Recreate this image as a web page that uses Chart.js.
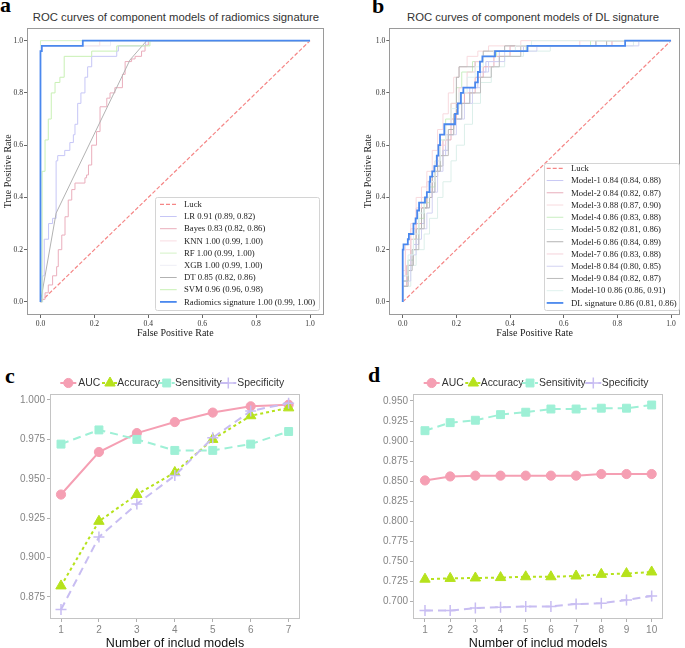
<!DOCTYPE html>
<html>
<head>
<meta charset="utf-8">
<script src="https://cdn.jsdelivr.net/npm/chart.js@4.4.0/dist/chart.umd.min.js"></script>
<style>
  html, body { margin: 0; padding: 0; background: #fff; }
  body { width: 685px; height: 648px; position: relative; overflow: hidden; }
  canvas { position: absolute; }
  .tag { position: absolute; font: bold 22px "Liberation Serif", serif; line-height: 22px; color: #000; }
  .title { position: absolute; font: 11.3px "Liberation Sans", Arial, sans-serif; line-height: 13px;
           color: #333; white-space: nowrap; transform: translateX(-50%); }
</style>
</head>
<body>
<div class="tag" style="left:0px;top:-6px">a</div>
<div class="tag" style="left:372px;top:-5px">b</div>
<div class="tag" style="left:5px;top:365px">c</div>
<div class="tag" style="left:368px;top:364px">d</div>
<div class="title" style="left:176px;top:11px">ROC curves of component models of radiomics signature</div>
<div class="title" style="left:533px;top:11px">ROC curves of component models of DL signature</div>

<canvas id="chartA" width="340" height="340" style="left:0;top:0"></canvas>
<canvas id="chartB" width="345" height="340" style="left:340px;top:0"></canvas>
<canvas id="chartC" width="340" height="315" style="left:0;top:340px"></canvas>
<canvas id="chartD" width="345" height="315" style="left:340px;top:340px"></canvas>

<script>
// ---------- shared ROC data ----------
const rocTicks = [0, 0.2, 0.4, 0.6, 0.8, 1.0];
const luckFpr = [0, 1];
const luckTpr = [0, 1];

// ---------- panel a: radiomics component models (step points: fpr where tpr rises) ----------
const lrFpr = [0, 0.008, 0.014, 0.03, 0.045, 0.058, 0.064, 0.09, 0.109, 0.122, 0.128, 0.138, 0.15, 0.165, 0.175, 0.19, 0.283, 0.289, 0.39, 1];
const lrTpr = [0, 0.10, 0.24, 0.30, 0.32, 0.54, 0.56, 0.58, 0.61, 0.64, 0.68, 0.76, 0.80, 0.86, 0.90, 0.94, 0.96, 0.98, 1.0, 1.0];
const bayesFpr = [0, 0.004, 0.017, 0.029, 0.045, 0.06, 0.066, 0.079, 0.091, 0.103, 0.116, 0.128, 0.165, 0.171, 0.178, 0.19, 0.208, 0.221, 0.246, 0.258, 0.276, 0.304, 0.314, 0.338, 0.351, 0.375, 0.388, 0.4, 1];
const bayesTpr = [0, 0.01, 0.035, 0.065, 0.10, 0.135, 0.20, 0.256, 0.326, 0.39, 0.43, 0.455, 0.475, 0.486, 0.524, 0.60, 0.652, 0.747, 0.78, 0.80, 0.82, 0.871, 0.92, 0.93, 0.94, 0.96, 0.983, 1.0, 1.0];
const knnFpr = [0, 0, 0.22, 1];
const knnTpr = [0, 0.98, 1.0, 1.0];
const rfFpr = [0, 0, 1];
const rfTpr = [0, 1.0, 1.0];
const xgbFpr = [0, 0, 0.26, 1];
const xgbTpr = [0, 0.98, 1.0, 1.0];
const dtFpr = [0, 0.058, 0.332, 0.394, 1];   // straight segments
const dtTpr = [0, 0.34, 0.926, 1.0, 1.0];
const svmFpr = [0, 0.006, 0.017, 0.029, 0.04, 0.054, 0.072, 0.088, 0.19, 0.283, 0.406, 1];
const svmTpr = [0, 0.50, 0.62, 0.70, 0.80, 0.84, 0.86, 0.94, 0.96, 0.98, 1.0, 1.0];
const radFpr = [0, 0, 0.005, 0.157, 1];
const radTpr = [0, 0.96, 0.98, 1.0, 1.0];

// ---------- panel b: DL component models ----------
const m1Fpr = [0, 0, 0.02, 0.04, 0.06, 0.08, 0.1, 0.12, 0.14, 0.16, 0.19, 0.22, 0.25, 0.28, 0.31, 0.36, 0.45, 0.72, 1];
const m1Tpr = [0, 0.10, 0.16, 0.22, 0.30, 0.36, 0.42, 0.50, 0.56, 0.64, 0.70, 0.76, 0.82, 0.88, 0.92, 0.96, 0.98, 1.0, 1.0];
const m2Fpr = [0, 0, 0.015, 0.03, 0.05, 0.07, 0.09, 0.11, 0.13, 0.15, 0.18, 0.2, 0.23, 0.27, 0.3, 0.34, 0.4, 0.78, 1];
const m2Tpr = [0, 0.06, 0.14, 0.24, 0.30, 0.36, 0.40, 0.48, 0.56, 0.62, 0.70, 0.76, 0.80, 0.86, 0.90, 0.94, 0.98, 1.0, 1.0];
const m3Fpr = [0, 0, 0.01, 0.03, 0.05, 0.07, 0.09, 0.11, 0.13, 0.15, 0.17, 0.19, 0.21, 0.24, 0.28, 0.32, 0.44, 1];
const m3Tpr = [0, 0.12, 0.22, 0.30, 0.40, 0.44, 0.50, 0.58, 0.66, 0.72, 0.80, 0.86, 0.90, 0.94, 0.96, 0.98, 1.0, 1.0];
const m4Fpr = [0, 0, 0.02, 0.04, 0.06, 0.08, 0.1, 0.12, 0.14, 0.16, 0.18, 0.2, 0.22, 0.26, 0.3, 0.35, 0.46, 0.7, 1];
const m4Tpr = [0, 0.08, 0.16, 0.24, 0.32, 0.38, 0.44, 0.52, 0.62, 0.70, 0.76, 0.82, 0.88, 0.92, 0.94, 0.96, 0.98, 1.0, 1.0];
const m5Fpr = [0, 0, 0.03, 0.05, 0.08, 0.1, 0.13, 0.15, 0.18, 0.2, 0.23, 0.26, 0.29, 0.33, 0.38, 0.45, 0.55, 0.86, 1];
const m5Tpr = [0, 0.06, 0.14, 0.20, 0.26, 0.32, 0.40, 0.46, 0.54, 0.60, 0.68, 0.76, 0.84, 0.90, 0.94, 0.96, 0.98, 1.0, 1.0];
const m6Fpr = [0, 0, 0.02, 0.035, 0.05, 0.07, 0.09, 0.11, 0.13, 0.15, 0.17, 0.19, 0.2, 0.21, 0.27, 0.3, 0.38, 0.76, 1];
const m6Tpr = [0, 0.06, 0.12, 0.20, 0.28, 0.36, 0.40, 0.48, 0.52, 0.58, 0.66, 0.72, 0.86, 0.90, 0.92, 0.96, 0.98, 1.0, 1.0];
const m7Fpr = [0, 0, 0.01, 0.03, 0.05, 0.07, 0.09, 0.12, 0.14, 0.16, 0.18, 0.21, 0.24, 0.27, 0.3, 0.34, 0.42, 0.66, 1];
const m7Tpr = [0, 0.10, 0.20, 0.28, 0.36, 0.40, 0.46, 0.54, 0.60, 0.68, 0.76, 0.82, 0.88, 0.92, 0.94, 0.96, 0.98, 1.0, 1.0];
const m8Fpr = [0, 0, 0.03, 0.05, 0.07, 0.09, 0.11, 0.13, 0.15, 0.17, 0.2, 0.23, 0.26, 0.29, 0.32, 0.38, 0.5, 0.88, 1];
const m8Tpr = [0, 0.08, 0.18, 0.24, 0.28, 0.34, 0.42, 0.50, 0.58, 0.64, 0.70, 0.76, 0.82, 0.88, 0.92, 0.96, 0.98, 1.0, 1.0];
const m9Fpr = [0, 0, 0.02, 0.04, 0.06, 0.08, 0.1, 0.12, 0.14, 0.17, 0.19, 0.22, 0.25, 0.29, 0.33, 0.36, 0.44, 0.72, 1];
const m9Tpr = [0, 0.08, 0.14, 0.20, 0.28, 0.36, 0.42, 0.50, 0.56, 0.64, 0.70, 0.76, 0.80, 0.86, 0.90, 0.94, 0.98, 1.0, 1.0];
const m10Fpr = [0, 0, 0.02, 0.04, 0.06, 0.08, 0.1, 0.12, 0.14, 0.16, 0.18, 0.21, 0.24, 0.27, 0.3, 0.34, 0.42, 0.48, 1];
const m10Tpr = [0, 0.10, 0.18, 0.26, 0.34, 0.40, 0.46, 0.54, 0.62, 0.68, 0.74, 0.80, 0.86, 0.90, 0.94, 0.96, 0.98, 1.0, 1.0];
const dlFpr = [0, 0, 0.003, 0.019, 0.023, 0.04, 0.048, 0.054, 0.061, 0.083, 0.09, 0.1, 0.102, 0.11, 0.118, 0.127, 0.133, 0.139, 0.155, 0.195, 0.205, 0.217, 0.226, 0.27, 0.28, 0.288, 0.297, 0.344, 0.465, 0.829, 1];
const dlTpr = [0, 0.20, 0.22, 0.24, 0.26, 0.30, 0.32, 0.35, 0.38, 0.40, 0.42, 0.46, 0.48, 0.50, 0.52, 0.56, 0.60, 0.64, 0.68, 0.72, 0.76, 0.80, 0.82, 0.84, 0.88, 0.92, 0.94, 0.96, 0.98, 1.0, 1.0];

// ---------- panels c and d: metrics vs number of included models ----------
const cModels = [1, 2, 3, 4, 5, 6, 7];
const cAuc = [0.940, 0.967, 0.979, 0.986, 0.992, 0.996, 0.997];
const cAccuracy = [0.882, 0.923, 0.940, 0.954, 0.975, 0.990, 0.995];
const cSensitivity = [0.972, 0.981, 0.975, 0.968, 0.968, 0.972, 0.980];
const cSpecificity = [0.867, 0.913, 0.934, 0.952, 0.976, 0.993, 0.998];
const cTicksY = [0.875, 0.900, 0.925, 0.950, 0.975, 1.000];

const dModels = [1, 2, 3, 4, 5, 6, 7, 8, 9, 10];
const dAuc = [0.851, 0.856, 0.857, 0.857, 0.857, 0.857, 0.857, 0.859, 0.859, 0.859];
const dAccuracy = [0.728, 0.729, 0.7295, 0.730, 0.731, 0.731, 0.732, 0.734, 0.735, 0.737];
const dSensitivity = [0.913, 0.923, 0.926, 0.933, 0.936, 0.940, 0.940, 0.941, 0.941, 0.945];
const dSpecificity = [0.689, 0.689, 0.692, 0.693, 0.694, 0.694, 0.697, 0.698, 0.702, 0.707];
const dTicksY = [0.700, 0.725, 0.750, 0.775, 0.800, 0.825, 0.850, 0.875, 0.900, 0.925, 0.950];

const metricNames = ['AUC', 'Accuracy', 'Sensitivity', 'Specificity'];

// ---------- helpers ----------
const pts = (xs, ys) => xs.map((x, i) => ({ x: x, y: ys[i] }));
const serif = "'Liberation Serif', 'Times New Roman', serif";
const sans = "'Liberation Sans', Arial, sans-serif";

function rocSet(label, xs, ys, color, width, stepped, dash) {
  return {
    label: label,
    data: pts(xs, ys),
    borderColor: color,
    borderWidth: width,
    borderDash: dash || [],
    pointRadius: 0,
    fill: false,
    tension: 0,
    stepped: stepped ? 'before' : false
  };
}

// legend order is array order; last one drawn on top
function drawOrder(sets) {
  sets.forEach((s, i) => { s.order = sets.length - i; });
  return sets;
}

const boxFrame = {
  id: 'boxFrame',
  afterDatasetsDraw(chart, args, o) {
    const { ctx, chartArea: a } = chart;
    ctx.save();
    ctx.strokeStyle = o.color;
    ctx.lineWidth = 1;
    const l = Math.round(a.left) + 0.5, t = Math.round(a.top) + 0.5;
    ctx.strokeRect(l, t, Math.round(a.right) - Math.round(a.left) - 1, Math.round(a.bottom) - Math.round(a.top) - 1);
    ctx.restore();
  }
};

const rocLegend = {
  id: 'rocLegend',
  afterDatasetsDraw(chart, args, o) {
    const ctx = chart.ctx;
    ctx.save();
    ctx.beginPath();
    ctx.roundRect(o.box[0] + 0.5, o.box[1] + 0.5, o.box[2], o.box[3], 2);
    ctx.fillStyle = 'rgba(255,255,255,0.85)';
    ctx.fill();
    ctx.strokeStyle = '#d4d4d4';
    ctx.lineWidth = 1;
    ctx.stroke();
    ctx.font = '8.7px ' + serif;
    ctx.textBaseline = 'middle';
    chart.data.datasets.forEach((ds, i) => {
      const y = o.rowY + i * o.rowStep;
      ctx.strokeStyle = ds.borderColor;
      ctx.lineWidth = ds.borderWidth;
      ctx.setLineDash(ds.borderDash || []);
      ctx.beginPath();
      ctx.moveTo(o.lineX[0], y);
      ctx.lineTo(o.lineX[1], y);
      ctx.stroke();
      ctx.setLineDash([]);
      ctx.fillStyle = '#222';
      ctx.fillText(ds.label, o.textX, y + 0.5);
    });
    ctx.restore();
  }
};

const keyLegend = {
  id: 'keyLegend',
  afterDraw(chart, args, o) {
    const ctx = chart.ctx;
    chart.data.datasets.forEach((ds, i) => {
      const cx = o.keyX[i], y = o.y;
      ctx.save();
      ctx.strokeStyle = ds.borderColor;
      ctx.lineWidth = ds.borderWidth;
      ctx.setLineDash(ds.borderDash || []);
      ctx.beginPath();
      ctx.moveTo(cx - 8, y);
      ctx.lineTo(cx + 8, y);
      ctx.stroke();
      ctx.setLineDash([]);
      ctx.fillStyle = ds.pointBackgroundColor;
      ctx.strokeStyle = ds.pointBorderColor;
      ctx.lineWidth = ds.pointBorderWidth;
      Chart.helpers.drawPoint(ctx, { pointStyle: ds.pointStyle, radius: ds.pointRadius, rotation: 0, borderWidth: ds.pointBorderWidth }, cx, y);
      ctx.fillStyle = '#333';
      ctx.font = '10.4px ' + sans;
      ctx.textBaseline = 'middle';
      ctx.fillText(ds.label, o.textX[i], y + 0.5);
      ctx.restore();
    });
  }
};

function rocAxes(xMax, yAxisWidth, yTitlePad) {
  const tickFont = { family: serif, size: 7.6 };
  return {
    x: {
      type: 'linear', min: -0.05, max: xMax,
      afterBuildTicks: s => { s.ticks = rocTicks.map(v => ({ value: v })); },
      afterFit: s => { s.height = 25; },
      grid: { display: true, drawOnChartArea: false, drawTicks: true, tickLength: 3, color: '#666' },
      border: { display: false },
      ticks: { font: tickFont, color: '#333', padding: 1, maxRotation: 0, callback: v => v.toFixed(1) },
      title: { display: true, text: 'False Positive Rate', font: { family: serif, size: 10 }, color: '#222', padding: { top: 0, bottom: 1 } }
    },
    y: {
      type: 'linear', min: -0.05, max: 1.05,
      afterBuildTicks: s => { s.ticks = rocTicks.map(v => ({ value: v })); },
      afterFit: s => { s.width = yAxisWidth; },
      grid: { display: true, drawOnChartArea: false, drawTicks: true, tickLength: 3, color: '#666' },
      border: { display: false },
      ticks: { font: tickFont, color: '#333', padding: 1, callback: v => v.toFixed(1) },
      title: { display: true, text: 'True Positive Rate', font: { family: serif, size: 10 }, color: '#222', padding: { top: yTitlePad, bottom: 0 } }
    }
  };
}

const luckColor = '#f58686';

// ---------- panel a ----------
const setsA = drawOrder([
  rocSet('Luck', luckFpr, luckTpr, luckColor, 1.2, false, [4, 2]),
  rocSet('LR 0.91 (0.89, 0.82)', lrFpr, lrTpr, '#c6c6f6', 1, true),
  rocSet('Bayes 0.83 (0.82, 0.86)', bayesFpr, bayesTpr, '#eaaebc', 1, true),
  rocSet('KNN 1.00 (0.99, 1.00)', knnFpr, knnTpr, '#f9dce2', 1, true),
  rocSet('RF 1.00 (0.99, 1.00)', rfFpr, rfTpr, '#d4f2c6', 1, true),
  rocSet('XGB 1.00 (0.99, 1.00)', xgbFpr, xgbTpr, '#eeeef6', 1, true),
  rocSet('DT 0.85 (0.82, 0.86)', dtFpr, dtTpr, '#b2b2b2', 1, false),
  rocSet('SVM 0.96 (0.96, 0.98)', svmFpr, svmTpr, '#c8f0b4', 1, true),
  rocSet('Radiomics signature 1.00 (0.99, 1.00)', radFpr, radTpr, '#4a88ee', 1.8, true)
]);

new Chart(document.getElementById('chartA'), {
  type: 'line',
  data: { datasets: setsA },
  options: {
    responsive: false, animation: false,
    layout: { padding: { top: 27.6, right: 16.5, left: 0, bottom: 0 } },
    plugins: {
      legend: { display: false }, tooltip: { enabled: false },
      boxFrame: { color: '#9a9a9a' },
      rocLegend: { box: [155, 197, 164, 113], rowY: 204.3, rowStep: 12.2, lineX: [160, 176.7], textX: 184 }
    },
    scales: rocAxes(1.05, 27, 2.3)
  },
  plugins: [boxFrame, rocLegend]
});

// ---------- panel b ----------
const setsB = drawOrder([
  rocSet('Luck', luckFpr, luckTpr, luckColor, 1.2, false, [4, 2]),
  rocSet('Model-1 0.84 (0.84, 0.88)', m1Fpr, m1Tpr, '#c8c8f4', 1, true),
  rocSet('Model-2 0.84 (0.82, 0.87)', m2Fpr, m2Tpr, '#e8aebb', 1, true),
  rocSet('Model-3 0.88 (0.87, 0.90)', m3Fpr, m3Tpr, '#f8dade', 1, true),
  rocSet('Model-4 0.86 (0.83, 0.88)', m4Fpr, m4Tpr, '#c8eec0', 1, true),
  rocSet('Model-5 0.82 (0.81, 0.86)', m5Fpr, m5Tpr, '#dcefea', 1, true),
  rocSet('Model-6 0.86 (0.84, 0.89)', m6Fpr, m6Tpr, '#b4b4b4', 1, true),
  rocSet('Model-7 0.86 (0.83, 0.88)', m7Fpr, m7Tpr, '#f5d2da', 1, true),
  rocSet('Model-8 0.84 (0.80, 0.85)', m8Fpr, m8Tpr, '#d2d2f2', 1, true),
  rocSet('Model-9 0.84 (0.82, 0.87)', m9Fpr, m9Tpr, '#bcbcbc', 1, true),
  rocSet('Model-10 0.86 (0.86, 0.91)', m10Fpr, m10Tpr, '#dff2ee', 1, true),
  rocSet('DL signature 0.86 (0.81, 0.86)', dlFpr, dlTpr, '#4a88ee', 1.8, true)
]);

new Chart(document.getElementById('chartB'), {
  type: 'line',
  data: { datasets: setsB },
  options: {
    responsive: false, animation: false,
    layout: { padding: { top: 27.6, right: 5, left: 0, bottom: 0 } },
    plugins: {
      legend: { display: false }, tooltip: { enabled: false },
      boxFrame: { color: '#9a9a9a' },
      rocLegend: { box: [204, 163, 135, 147], rowY: 168.3, rowStep: 12.24, lineX: [206.7, 223.3], textX: 231 }
    },
    scales: rocAxes(1.0335, 49.3, 22)
  },
  plugins: [boxFrame, rocLegend]
});

// ---------- panels c and d ----------
const metricColors = ['#f59fb3', '#b6e21c', '#9ef0d6', '#c8bdf2'];
const metricDash = [[], [3, 3], [8, 5], [8, 5]];
const metricPoint = ['circle', 'triangle', 'rect', 'cross'];
const metricRadius = [4.6, 6, 5.6, 5.5];

function metricSets(xs, series) {
  return series.map((ys, i) => ({
    label: metricNames[i],
    data: pts(xs, ys),
    borderColor: metricColors[i],
    backgroundColor: metricColors[i],
    borderWidth: 2,
    borderDash: metricDash[i],
    pointStyle: metricPoint[i],
    pointRadius: metricRadius[i],
    pointBackgroundColor: metricColors[i],
    pointBorderColor: metricColors[i],
    pointBorderWidth: i === 3 ? 1.5 : 1,
    fill: false,
    tension: 0
  }));
}

function metricAxes(xs, xMin, xMax, yTicks, yMin, yMax, yWidth) {
  const tickStyle = { font: { family: sans, size: 10 }, color: '#858585', padding: 2 };
  return {
    x: {
      type: 'linear', min: xMin, max: xMax,
      afterBuildTicks: s => { s.ticks = xs.map(v => ({ value: v })); },
      afterFit: s => { s.height = 36; },
      grid: { display: true, drawOnChartArea: false, drawTicks: true, tickLength: 3, color: '#b0b0b0' },
      border: { display: false },
      ticks: Object.assign({ maxRotation: 0, callback: v => String(v) }, tickStyle),
      title: { display: true, text: 'Number of includ models', font: { family: sans, size: 12.5 }, color: '#111', padding: { top: 0, bottom: 4.3 } }
    },
    y: {
      type: 'linear', min: yMin, max: yMax,
      afterBuildTicks: s => { s.ticks = yTicks.map(v => ({ value: v })); },
      afterFit: s => { s.width = yWidth; },
      grid: { display: true, drawOnChartArea: false, drawTicks: true, tickLength: 3, color: '#b0b0b0' },
      border: { display: false },
      ticks: Object.assign({ callback: v => v.toFixed(3) }, tickStyle)
    }
  };
}

new Chart(document.getElementById('chartC'), {
  type: 'line',
  data: { datasets: drawOrder(metricSets(cModels, [cAuc, cAccuracy, cSensitivity, cSpecificity])) },
  options: {
    responsive: false, animation: false,
    layout: { padding: { top: 54, right: 40, left: 0, bottom: 0 } },
    plugins: {
      legend: { display: false }, tooltip: { enabled: false },
      boxFrame: { color: '#c4c4c4' },
      keyLegend: { y: 43, keyX: [68.3, 110, 166.7, 228.3], textX: [78.3, 117.3, 175, 237.3] }
    },
    scales: metricAxes(cModels, 0.71, 7.3, cTicksY, 0.861, 1.0038, 50)
  },
  plugins: [boxFrame, keyLegend]
});

new Chart(document.getElementById('chartD'), {
  type: 'line',
  data: { datasets: drawOrder(metricSets(dModels, [dAuc, dAccuracy, dSensitivity, dSpecificity])) },
  options: {
    responsive: false, animation: false,
    layout: { padding: { top: 54, right: 22, left: 0, bottom: 0 } },
    plugins: {
      legend: { display: false }, tooltip: { enabled: false },
      boxFrame: { color: '#c4c4c4' },
      keyLegend: { y: 43, keyX: [91.7, 133.3, 190, 253.3], textX: [101.7, 140.7, 199, 261.7] }
    },
    scales: metricAxes(dModels, 0.524, 10.45, dTicksY, 0.6784, 0.9587, 73)
  },
  plugins: [boxFrame, keyLegend]
});
</script>
</body>
</html>
